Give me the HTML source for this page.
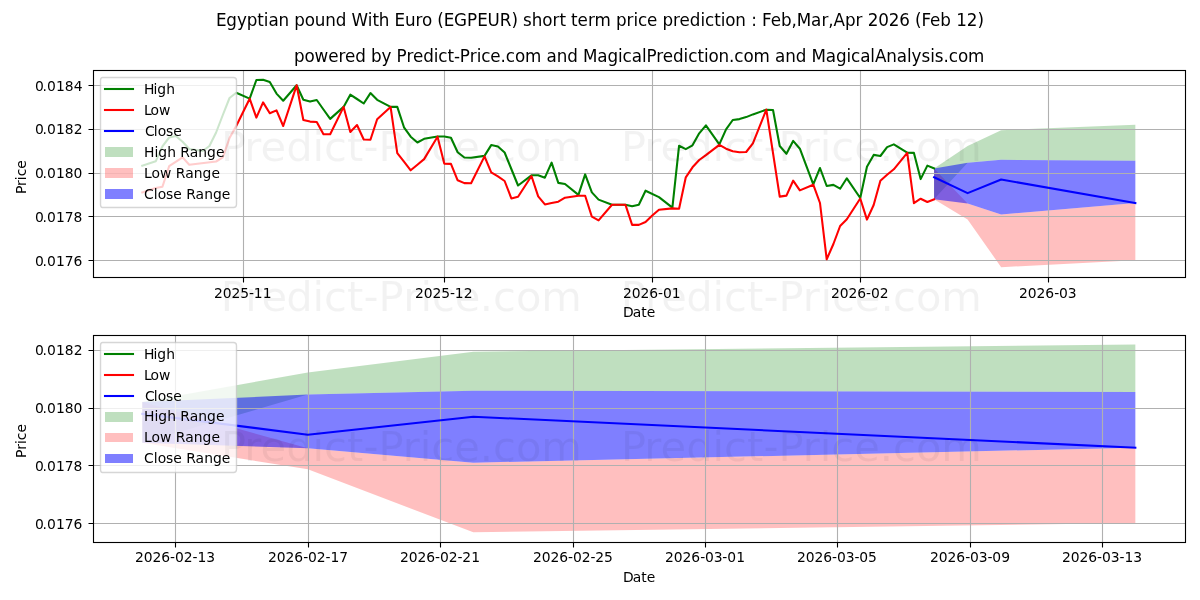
<!DOCTYPE html>
<html lang="en"><head><meta charset="utf-8"><title>Egyptian pound With Euro (EGPEUR) short term price prediction</title>
<style>html,body{margin:0;padding:0;background:#fff}body{width:1200px;height:600px;overflow:hidden}svg{display:block}text{font-family:'DejaVu Sans', 'Liberation Sans', sans-serif;white-space:pre}</style></head>
<body>
<svg width="1200" height="600" viewBox="0 0 1200 600">
<rect width="1200" height="600" fill="#fff"/>
<path d="M934.06 168.4L934.06 199.3L967.6 162.74L1001.15 159.78L1135.35 160.69L1135.35 124.79L1135.35 124.79L1001.15 130.21L967.6 145.9L934.06 168.4Z" fill="#008000" fill-opacity="0.25"/>
<path d="M934.06 168.4L934.06 199.3L967.6 219.4L1001.15 267.2L1135.35 260.13L1135.35 203.02L1135.35 203.02L1001.15 214.39L967.6 203.47L934.06 168.4Z" fill="#ff0000" fill-opacity="0.25"/>
<path d="M934.06 168.4L934.06 199.3L967.6 203.47L1001.15 214.39L1135.35 203.02L1135.35 160.69L1135.35 160.69L1001.15 159.78L967.6 162.74L934.06 168.4Z" fill="#0000ff" fill-opacity="0.5"/>
<path d="M243.5 70.5V277.5M444.5 70.5V277.5M652.5 70.5V277.5M860.5 70.5V277.5M1048.5 70.5V277.5M93.5 260.5H1185.5M93.5 216.5H1185.5M93.5 173.5H1185.5M93.5 129.5H1185.5M93.5 85.5H1185.5" fill="none" stroke="#b0b0b0" stroke-width="1.11"/>
<path d="M243.5 277.5V282.5M444.5 277.5V282.5M652.5 277.5V282.5M860.5 277.5V282.5M1048.5 277.5V282.5M88.5 260.5H93.5M88.5 216.5H93.5M88.5 173.5H93.5M88.5 129.5H93.5M88.5 85.5H93.5" fill="none" stroke="#000" stroke-width="1.11"/>
<text x="213.89 222.64 231.39 240.14 248.89 253.76 262.64" y="297.61" font-size="13.89">2025-11</text>
<text x="414.99 423.74 432.49 441.24 449.99 454.87 463.74" y="297.61" font-size="13.89">2025-12</text>
<text x="622.93 631.68 640.43 649.18 658.06 662.93 671.68" y="297.61" font-size="13.89">2026-01</text>
<text x="831 839.75 848.5 857.25 866.12 871 879.75" y="297.61" font-size="13.89">2026-02</text>
<text x="1019.12 1027.87 1036.62 1045.37 1054.25 1059.12 1067.87" y="297.61" font-size="13.89">2026-03</text>
<text x="35.06 42.56 46.93 55.93 64.81 73.56" y="265.71" font-size="13.89">0.0176</text>
<text x="35.06 42.56 46.93 55.93 64.81 73.56" y="221.91" font-size="13.89">0.0178</text>
<text x="35.06 42.56 46.93 55.93 64.81 73.43" y="178.1" font-size="13.89">0.0180</text>
<text x="35.06 42.56 46.93 55.93 64.81 73.68" y="134.3" font-size="13.89">0.0182</text>
<text x="35.06 42.56 46.93 55.93 64.81 73.68" y="90.5" font-size="13.89">0.0184</text>
<text x="622.89 632.64 641.26 646.76" y="317.17" font-size="13.89">Date</text>
<text x="26 34.12 39.87 43.75 51.37" y="194.05" font-size="13.89" transform="rotate(-90 26 194.05)">Price</text>
<path d="M142.3 165.7L155.72 161.3L162.43 146.3L169.14 137.5L175.85 136L182.56 141.7L189.27 149L202.69 151L209.4 146L216.11 132.5L222.82 115L229.53 98L236.24 92.8L249.66 98.67L256.37 80L263.08 79.72L269.79 82L276.5 93.6L283.21 100.7L296.63 85.3L303.34 99.7L310.05 101.6L316.76 100L323.47 109.5L330.18 118.9L343.6 106.9L350.31 94.7L357.02 99L363.73 103.5L370.44 93.1L377.15 99.8L390.57 106.9L397.28 106.9L403.99 127.3L410.69 136.7L417.4 142.5L424.11 138.8L437.53 136.5L444.24 136.5L450.95 137.8L457.66 152.2L464.37 157.5L471.08 157.7L484.5 155.9L491.21 145.1L497.92 146.5L504.63 152.5L511.34 169L518.05 185.5L531.47 175.3L538.18 175.3L544.89 177.7L551.6 162.7L558.31 182.9L565.02 184L578.44 194.9L585.15 174.4L591.86 192.4L598.57 199.6L611.99 204.7L625.41 204.7L632.12 206.3L638.83 204.7L645.54 190.7L658.96 197.1L672.38 207.6L679.08 145.7L685.79 149.1L692.5 145.3L699.21 133.3L705.92 125.3L719.34 144.4L726.05 129.3L732.76 120L739.47 119.1L746.18 117.1L752.89 114.4L766.31 109.7L773.02 110L779.73 146L786.44 153.8L793.15 140.9L799.86 148.7L813.28 184.4L819.99 168L826.7 186L833.41 184.9L840.12 188.7L846.83 178.3L860.25 198L866.96 166.7L873.67 154.9L880.38 156L887.09 147.1L893.8 144.4L907.22 152.7L913.93 152.9L920.64 179.1L927.35 165.6L934.06 168.4" fill="none" stroke="#008000" stroke-width="2.08" stroke-linecap="square" stroke-linejoin="round"/>
<path d="M142.3 192.4L155.72 188L162.43 186.8L169.14 166.2L182.56 157.4L189.27 164.8L216.11 161.5L222.82 157.4L229.53 138L236.24 126L249.66 98.67L256.37 117.6L263.08 102.4L269.79 113.3L276.5 110.4L283.21 126L296.63 85.3L303.34 120L310.05 121.6L316.76 122L323.47 134.3L330.18 134.3L343.6 106.9L350.31 132L357.02 125L363.73 139.5L370.44 139.8L377.15 119.2L390.57 106.9L397.28 153.2L403.99 161.7L410.69 170.3L417.4 164.7L424.11 159.1L437.53 136.7L444.24 163.6L450.95 163.9L457.66 180.3L464.37 183.1L471.08 183.3L484.5 156.4L491.21 172.4L497.92 176.4L504.63 181L511.34 198.4L518.05 196.7L531.47 176L538.18 196.4L544.89 204.4L551.6 203L558.31 201.7L565.02 197.7L578.44 195.7L585.15 195.7L591.86 216.7L598.57 220.4L611.99 204.7L625.41 204.7L632.12 224.9L638.83 224.9L645.54 222L652.25 215.5L658.96 209.7L672.38 208.4L679.08 208.7L685.79 177.3L692.5 167.3L699.21 160L705.92 155.2L719.34 144.9L726.05 148.7L732.76 151.3L739.47 152.3L746.18 152L752.89 143.3L766.31 109.7L779.73 196.6L786.44 195.6L793.15 180.7L799.86 190.4L813.28 184.7L819.99 203L826.7 259.3L833.41 244L840.12 226L846.83 219.3L860.25 198.5L866.96 219.6L873.67 205L880.38 180.7L887.09 174.7L893.8 169.3L907.22 152.9L913.93 203.1L920.64 198.7L927.35 202L934.06 199.3" fill="none" stroke="#ff0000" stroke-width="2.08" stroke-linecap="square" stroke-linejoin="round"/>
<path d="M934.06 177.3L967.6 193.16L1001.15 179.5L1135.35 203.02" fill="none" stroke="#0000ff" stroke-width="2.08" stroke-linecap="square" stroke-linejoin="round"/>
<rect x="93.5" y="70.5" width="1092" height="207" fill="none" stroke="#000" stroke-width="1.11"/>
<text x="293.89 304.39 314.51 328.14 338.39 344.89 355.14 365.64 370.89 381.39 391.26 396.51 406.39 412.89 423.14 433.64 438.26 447.39 453.89 459.76 469.64 476.76 481.14 490.26 500.51 505.76 514.89 525.01 541.26 546.51 556.64 567.14 577.64 582.89 597.26 607.39 617.89 622.51 631.64 642.01 646.39 656.26 662.76 673.01 683.51 688.14 697.51 704.01 708.39 718.51 729.01 734.26 743.39 753.51 769.76 775.01 785.14 795.64 806.14 811.39 825.76 835.89 846.39 851.01 860.14 870.26 874.89 886.26 896.76 906.89 911.51 921.39 930.14 934.76 943.51 948.76 957.89 968.01" y="62" font-size="16.75">powered by Predict-Price.com and MagicalPrediction.com and MagicalAnalysis.com</text>
<path d="M102.5 207.5L233.5 207.5Q236.5 207.5 236.5 204.5L236.5 80.5Q236.5 77.5 233.5 77.5L102.5 77.5Q100.5 77.5 100.5 80.5L100.5 204.5Q100.5 207.5 102.5 207.5Z" fill="#ffffff" stroke="#cccccc" stroke-width="1.39" stroke-linejoin="miter" opacity="0.8"/>
<path d="M105 89L119 89L133 89" fill="none" stroke="#008000" stroke-width="2.08" stroke-linecap="square"/>
<path d="M105 110L119 110L133 110" fill="none" stroke="#ff0000" stroke-width="2.08" stroke-linecap="square"/>
<path d="M105 131L119 131L133 131" fill="none" stroke="#0000ff" stroke-width="2.08" stroke-linecap="square"/>
<path d="M105 157L133 157L133 147L105 147Z" fill="#008000" fill-opacity="0.25"/>
<path d="M105 178L133 178L133 168L105 168Z" fill="#ff0000" fill-opacity="0.25"/>
<path d="M105 199L133 199L133 189L105 189Z" fill="#0000ff" fill-opacity="0.5"/>
<text x="144.04 153.42 157.29 166.17" y="93.83" font-size="13.89">High</text>
<text x="144.04 150.54 159.04" y="114.78" font-size="13.89">Low</text>
<text x="145.04 153.79 157.67 165.92 173.29" y="135.72" font-size="13.89">Close</text>
<text x="144.04 154.42 158.29 167.17 175.92 180.29 189.67 198.29 207.04 215.92" y="156.67" font-size="13.89">High Range</text>
<text x="144.04 151.54 160.04 171.42 175.79 185.17 193.79 202.54 211.42" y="177.61" font-size="13.89">Low Range</text>
<text x="144.04 153.79 157.67 165.92 173.29 181.79 186.17 195.54 204.17 212.92 221.79" y="198.56" font-size="13.89">Close Range</text>
<path d="M142.3 402.06L142.3 442.8L307.81 394.6L473.32 390.7L1135.35 391.9L1135.35 344.56L1135.35 344.56L473.32 351.7L307.81 372.4L142.3 402.06Z" fill="#008000" fill-opacity="0.25"/>
<path d="M142.3 402.06L142.3 442.8L307.81 469.3L473.32 532.33L1135.35 523L1135.35 447.7L1135.35 447.7L473.32 462.7L307.81 448.3L142.3 402.06Z" fill="#ff0000" fill-opacity="0.25"/>
<path d="M142.3 402.06L142.3 442.8L307.81 448.3L473.32 462.7L1135.35 447.7L1135.35 391.9L1135.35 391.9L473.32 390.7L307.81 394.6L142.3 402.06Z" fill="#0000ff" fill-opacity="0.5"/>
<path d="M175.5 335.5V542.5M308.5 335.5V542.5M440.5 335.5V542.5M573.5 335.5V542.5M705.5 335.5V542.5M837.5 335.5V542.5M970.5 335.5V542.5M1102.5 335.5V542.5M93.5 523.5H1185.5M93.5 465.5H1185.5M93.5 408.5H1185.5M93.5 350.5H1185.5" fill="none" stroke="#b0b0b0" stroke-width="1.11"/>
<path d="M175.5 542.5V547.5M308.5 542.5V547.5M440.5 542.5V547.5M573.5 542.5V547.5M705.5 542.5V547.5M837.5 542.5V547.5M970.5 542.5V547.5M1102.5 542.5V547.5M88.5 523.5H93.5M88.5 465.5H93.5M88.5 408.5H93.5M88.5 350.5H93.5" fill="none" stroke="#000" stroke-width="1.11"/>
<text x="134.91 143.66 152.41 161.16 170.03 174.91 183.66 192.41 197.53 206.16" y="562.44" font-size="13.89">2026-02-13</text>
<text x="268.06 276.81 285.56 294.31 303.19 308.06 316.81 325.56 330.44 339.31" y="562.44" font-size="13.89">2026-02-17</text>
<text x="399.97 408.72 417.47 426.22 435.09 439.97 448.72 457.47 462.34 471.34" y="562.44" font-size="13.89">2026-02-21</text>
<text x="532.94 541.69 550.44 559.19 568.06 572.94 581.69 590.44 595.31 604.06" y="562.44" font-size="13.89">2026-02-25</text>
<text x="665.03 673.78 682.53 691.28 700.15 705.03 713.78 722.28 727.15 736.15" y="562.44" font-size="13.89">2026-03-01</text>
<text x="797 805.75 814.5 823.25 832.12 837 845.75 854.5 859.37 868.12" y="562.44" font-size="13.89">2026-03-05</text>
<text x="930.09 938.84 947.59 956.34 965.22 970.09 978.84 987.59 992.22 1001.22" y="562.44" font-size="13.89">2026-03-09</text>
<text x="1062 1070.75 1079.5 1088.25 1097.12 1102 1110.75 1119.5 1124.62 1133.25" y="562.44" font-size="13.89">2026-03-13</text>
<text x="35.06 42.56 46.93 55.93 64.81 73.56" y="528.61" font-size="13.89">0.0176</text>
<text x="35.06 42.56 46.93 55.93 64.81 73.56" y="470.85" font-size="13.89">0.0178</text>
<text x="35.06 42.56 46.93 55.93 64.81 73.43" y="413.1" font-size="13.89">0.0180</text>
<text x="35.06 42.56 46.93 55.93 64.81 73.68" y="355.35" font-size="13.89">0.0182</text>
<text x="622.89 632.64 641.26 646.76" y="582" font-size="13.89">Date</text>
<text x="26 34.12 39.87 43.75 51.37" y="457.88" font-size="13.89" transform="rotate(-90 26 457.88)">Price</text>
<path d="M142.3 413.8L307.81 434.7L473.32 416.7L1135.35 447.7" fill="none" stroke="#0000ff" stroke-width="2.08" stroke-linecap="square" stroke-linejoin="round"/>
<rect x="93.5" y="335.5" width="1092" height="207" fill="none" stroke="#000" stroke-width="1.11"/>
<path d="M102.5 472.5L233.5 472.5Q236.5 472.5 236.5 469.5L236.5 345.5Q236.5 342.5 233.5 342.5L102.5 342.5Q100.5 342.5 100.5 345.5L100.5 469.5Q100.5 472.5 102.5 472.5Z" fill="#ffffff" stroke="#cccccc" stroke-width="1.39" stroke-linejoin="miter" opacity="0.8"/>
<path d="M105 354L119 354L133 354" fill="none" stroke="#008000" stroke-width="2.08" stroke-linecap="square"/>
<path d="M105 375L119 375L133 375" fill="none" stroke="#ff0000" stroke-width="2.08" stroke-linecap="square"/>
<path d="M105 396L119 396L133 396" fill="none" stroke="#0000ff" stroke-width="2.08" stroke-linecap="square"/>
<path d="M105 422L133 422L133 412L105 412Z" fill="#008000" fill-opacity="0.25"/>
<path d="M105 442L133 442L133 433L105 433Z" fill="#ff0000" fill-opacity="0.25"/>
<path d="M105 463L133 463L133 454L105 454Z" fill="#0000ff" fill-opacity="0.5"/>
<text x="144.04 153.42 157.29 166.17" y="358.67" font-size="13.89">High</text>
<text x="144.04 150.54 159.04" y="379.61" font-size="13.89">Low</text>
<text x="145.04 153.79 157.67 165.92 173.29" y="400.56" font-size="13.89">Close</text>
<text x="144.04 154.42 158.29 167.17 175.92 180.29 189.67 198.29 207.04 215.92" y="421" font-size="13.89">High Range</text>
<text x="144.04 151.54 160.04 171.42 175.79 185.17 193.79 202.54 211.42" y="442.44" font-size="13.89">Low Range</text>
<text x="144.04 153.79 157.67 165.92 173.29 181.79 186.17 195.54 204.17 212.92 221.79" y="463.39" font-size="13.89">Close Range</text>
<text x="216.06 226.19 236.94 246.81 257.31 263.81 268.44 278.56 289.06 294.31 304.81 314.69 325.19 335.69 346.19 351.44 367.81 372.44 378.69 389.19 394.44 405.06 415.56 422.06 432.19 437.19 443.81 453.94 467.06 477.19 487.56 499.81 511.44 517.69 522.94 531.69 542.19 552.56 559.44 565.69 570.94 577.44 587.94 594.56 610.81 616.06 626.56 633.44 638.06 646.94 657.19 662.44 672.94 679.44 689.69 700.44 705.06 714.19 720.69 725.31 735.19 745.69 751.19 756.69 761.94 770.81 781.06 791.56 796.69 811.06 821.44 828.31 833.44 845.06 855.56 862.44 867.69 878.31 888.81 899.19 909.69 914.94 921.56 929.94 940.19 950.69 956.19 966.81 977.44" y="26" font-size="16.75">Egyptian pound With Euro (EGPEUR) short term price prediction : Feb,Mar,Apr 2026 (Feb 12)</text>
<text x="221.06 244.19 260.44 286.31 312.44 323.94 347.06 363.44 378.44 402.81 419.69 431.19 454.31 479.69 492.94 516.06 541.19" y="161" font-size="41.67" fill-opacity="0.05">Predict-Price.com</text>
<text x="621.06 644.19 660.44 686.31 712.44 723.94 747.06 763.44 778.44 802.81 819.69 831.19 854.31 879.69 892.94 916.06 941.19" y="161" font-size="41.67" fill-opacity="0.05">Predict-Price.com</text>
<text x="220.81 245.19 261.44 286.31 312.44 323.94 347.06 363.44 378.44 403.31 420.44 431.94 454.81 479.69 492.94 516.06 541.19" y="311" font-size="41.67" fill-opacity="0.05">Predict-Price.com</text>
<text x="620.81 644.94 661.19 686.31 712.44 723.94 747.06 763.44 778.44 802.81 820.44 831.94 854.81 880.44 892.94 916.06 941.19" y="311" font-size="41.67" fill-opacity="0.05">Predict-Price.com</text>
<text x="221.06 244.19 260.44 286.31 312.44 323.94 347.06 363.44 378.44 402.81 419.69 431.19 454.31 479.69 492.94 516.06 541.19" y="460.5" font-size="41.67" fill-opacity="0.05">Predict-Price.com</text>
<text x="621.06 644.19 660.44 686.31 712.44 723.94 747.06 763.44 778.44 802.81 819.69 831.19 854.31 879.69 892.94 916.06 941.19" y="461" font-size="41.67" fill-opacity="0.05">Predict-Price.com</text>
</svg>
</body></html>
